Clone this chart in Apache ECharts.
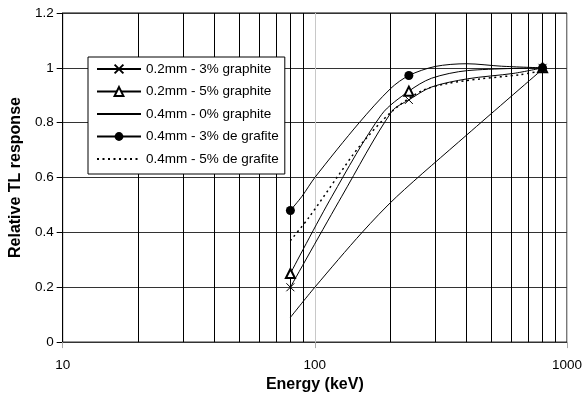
<!DOCTYPE html>
<html>
<head>
<meta charset="utf-8">
<script src="https://cdn.jsdelivr.net/npm/echarts@6/dist/echarts.min.js"></script>
<style>html,body{margin:0;padding:0;background:#fff;}#c{width:585px;height:398px;}</style>
</head>
<body>
<div id="c"></div>
<script>
// Measured energies (markers) and curve readings taken off the drawn smoothed curves
var markerEnergies = [80, 236, 800];

var e02_3 = [80, 128, 202, 236, 290, 403, 616, 800];
var v02_3 = [0.20, 0.532, 0.841, 0.883, 0.93, 0.96, 0.98, 1.0];

var e02_5 = [80, 117, 184, 236, 290, 403, 800];
var v02_5 = [0.25, 0.532, 0.83, 0.915, 0.962, 0.99, 1.0];

var e04_0 = [80, 100, 154, 211, 400, 800];
var v04_0 = [0.09, 0.20, 0.40, 0.53, 0.755, 0.995];

var e04_3 = [80, 89, 100, 150, 200, 236, 300, 400, 550, 800];
var v04_3 = [0.48, 0.532, 0.60, 0.80, 0.925, 0.972, 1.005, 1.015, 1.006, 1.0];

var e04_5 = [80, 95, 123, 151, 202, 264, 336, 455, 653, 800];
var v04_5 = [0.37, 0.456, 0.603, 0.716, 0.841, 0.915, 0.943, 0.96, 0.975, 0.99];

var seriesNames = ['0.2mm - 3% graphite', '0.2mm - 5% graphite', '0.4mm - 0% graphite', '0.4mm - 3% de grafite', '0.4mm - 5% de grafite'];
var unmarked = ['0.4mm - 0% graphite', '0.4mm - 5% de grafite'];
var minorGrid = [20, 30, 40, 50, 60, 70, 80, 90, 200, 300, 400, 500, 600, 700, 800, 900];
var xTickLabels = { 10: '10', 100: '100', 1000: '1000' };

function pts(es, vs, marked) {
  return es.map(function (e, i) {
    var item = { value: [e, vs[i]] };
    if (!marked || markerEnergies.indexOf(e) < 0) item.symbol = 'none';
    return item;
  });
}

var FONT = 'Liberation Sans, Arial, sans-serif';
var SM = 0.3;
var chart = echarts.init(document.getElementById('c'));
chart.setOption({
  animation: false,
  backgroundColor: '#fff',
  textStyle: { fontFamily: FONT },
  grid: { left: 58, right: 18, top: 13, bottom: 49, show: true, borderColor: '#000', borderWidth: 1, backgroundColor: 'transparent' },
  legend: {
    orient: 'vertical', left: 88, top: 57, z: 10,
    padding: [5, 6, 8, 8],
    backgroundColor: '#fff', borderColor: '#000', borderWidth: 1,
    itemWidth: 44, itemHeight: 11, itemGap: 8.5,
    textStyle: { fontSize: 13.5, color: '#000', fontFamily: FONT },
    data: seriesNames.map(function (n) {
      return unmarked.indexOf(n) >= 0 ? { name: n, itemStyle: { opacity: 0 } } : { name: n };
    })
  },
  xAxis: {
    type: 'log', logBase: 10, min: 10, max: 1000,
    name: 'Energy (keV)', nameLocation: 'middle', nameGap: 30,
    nameTextStyle: { fontSize: 16, fontWeight: 'bold', color: '#000', fontFamily: FONT },
    axisLine: { show: true, lineStyle: { color: '#333', width: 1 } },
    axisTick: { show: true, length: 6, inside: false, lineStyle: { color: '#aaa' } },
    axisLabel: { fontSize: 13.5, color: '#000', margin: 16, fontFamily: FONT,
      formatter: function (v) { return xTickLabels[Math.round(v)] || ''; } },
    splitLine: { show: true, lineStyle: { color: '#c8c8c8', width: 1 } },
    minorTick: { show: false }, minorSplitLine: { show: false }
  },
  yAxis: {
    type: 'value', min: 0, max: 1.2, interval: 0.2,
    name: 'Relative TL response', nameLocation: 'middle', nameGap: 32,
    nameTextStyle: { fontSize: 16, fontWeight: 'bold', color: '#000', fontFamily: FONT },
    axisLine: { show: true, lineStyle: { color: '#000', width: 1 } },
    axisTick: { show: true, length: 6, lineStyle: { color: '#000' } },
    axisLabel: { fontSize: 13.5, color: '#000', margin: 9, fontFamily: FONT },
    splitLine: { show: true, lineStyle: { color: '#333', width: 1 } }
  },
  series: [
    {
      name: seriesNames[2], type: 'line', data: pts(e04_0, v04_0, false), smooth: SM,
      symbol: 'none', z: 2,
      lineStyle: { color: '#000', width: 1 }, itemStyle: { color: '#000' },
      markLine: {
        silent: true, symbol: ['none', 'none'], label: { show: false }, z: 1,
        lineStyle: { type: 'solid', color: '#000', width: 1 },
        data: minorGrid.map(function (v) { return { xAxis: v }; })
      }
    },
    {
      name: seriesNames[4], type: 'line', data: pts(e04_5, v04_5, false), smooth: SM,
      symbol: 'none',
      lineStyle: { color: '#000', width: 1.5, type: [2, 3.5] }, itemStyle: { color: '#000' }
    },
    {
      name: seriesNames[0], type: 'line', data: pts(e02_3, v02_3, true), smooth: SM,
      symbol: 'path://M0,0L10,10M10,0L0,10', symbolSize: 8, showSymbol: true, showAllSymbol: true,
      lineStyle: { color: '#000', width: 1 }, itemStyle: { color: '#000', borderColor: '#000', borderWidth: 1 }
    },
    {
      name: seriesNames[1], type: 'line', data: pts(e02_5, v02_5, true), smooth: SM,
      symbol: 'emptyTriangle', symbolSize: 9, showSymbol: true, showAllSymbol: true,
      lineStyle: { color: '#000', width: 1 }, itemStyle: { color: '#000', borderColor: '#000', borderWidth: 1 }
    },
    {
      name: seriesNames[3], type: 'line', data: pts(e04_3, v04_3, true), smooth: SM,
      symbol: 'circle', symbolSize: 9, showSymbol: true, showAllSymbol: true,
      lineStyle: { color: '#000', width: 1 }, itemStyle: { color: '#000' }
    }
  ]
});
</script>
</body>
</html>
